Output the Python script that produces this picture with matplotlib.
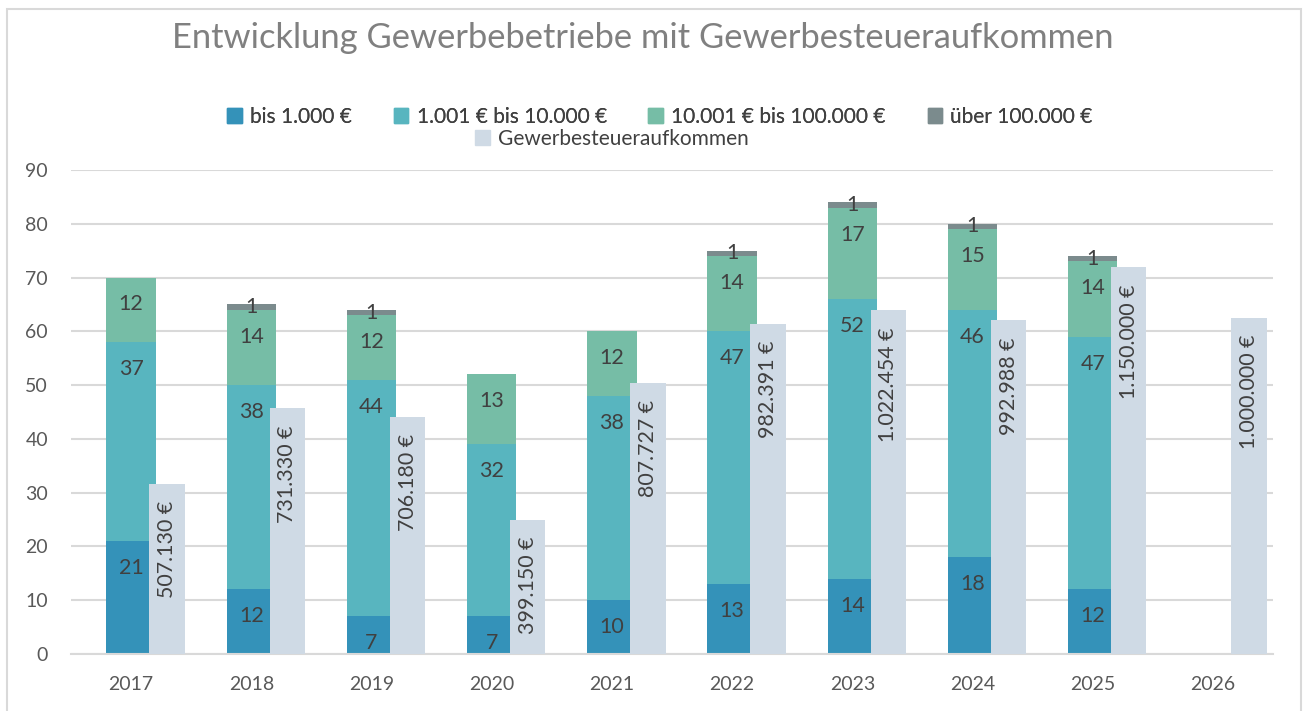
import numpy as np
import matplotlib.pyplot as plt
from matplotlib.patches import Rectangle, Patch

plt.rcParams['font.family'] = ['Lato', 'DejaVu Sans']

jahre = ['2017', '2018', '2019', '2020', '2021', '2022', '2023', '2024', '2025', '2026']
bis_1000 = [21, 12, 7, 7, 10, 13, 14, 18, 12, 0]
bis_10000 = [37, 38, 44, 32, 38, 47, 52, 46, 47, 0]
bis_100000 = [12, 14, 12, 13, 12, 14, 17, 15, 14, 0]
ueber_100000 = [0, 1, 1, 0, 0, 1, 1, 1, 1, 0]
aufkommen = [507130, 731330, 706180, 399150, 807727, 982391, 1022454, 992988, 1150000, 1000000]

serien = [
    ('bis 1.000 €', bis_1000, '#3492b9'),
    ('1.001 € bis 10.000 €', bis_10000, '#58b5bf'),
    ('10.001 € bis 100.000 €', bis_100000, '#76bda6'),
    ('über 100.000 €', ueber_100000, '#7b8b8d'),
]
farbe_aufkommen = '#cfdae5'
grau = '#d9d9d9'
textfarbe = '#404040'

fig = plt.figure(figsize=(13.03, 7.11), dpi=100)
ax = fig.add_axes([71 / 1303, 57 / 711, 1202 / 1303, 484 / 711])
ax2 = ax.twinx()

x = np.arange(len(jahre))
unten = np.zeros(len(jahre))
handles = []
for name, werte, farbe in serien:
    werte = np.array(werte, dtype=float)
    ax.bar(x, werte, width=0.41, bottom=unten, color=farbe, zorder=2)
    handles.append(Patch(color=farbe, label=name))
    for xi, b, v in zip(x, unten, werte):
        if v <= 0:
            continue
        top = b + v
        if v >= 3:
            ax.annotate(f'{v:.0f}', (xi, top), xytext=(0, -19.4), textcoords='offset points',
                        ha='center', va='center', fontsize=15.4, color=textfarbe, zorder=5)
        else:
            ax.annotate(f'{v:.0f}', (xi, b + v / 2), ha='center', va='center',
                        fontsize=15.4, color=textfarbe, zorder=5)
    unten += werte

# Gewerbesteueraufkommen auf zweiter Achse (gleiche Skala, versteckt)
ax2.bar(x + 0.3, aufkommen, width=0.295, color=farbe_aufkommen, zorder=3)
for xi, v in zip(x, aufkommen):
    txt = f'{v:,}'.replace(',', '.') + ' €'
    ax2.annotate(txt, (xi + 0.3, v), xytext=(0, -12.2), textcoords='offset points',
                 ha='center', va='top', rotation=90, fontsize=15.4, color=textfarbe)

ax.set_xlim(-0.5, len(jahre) - 0.5)
ax.set_ylim(0, 90)
ax2.set_ylim(0, 90 * 16000)
ax.set_yticks(range(0, 91, 10))
ax.set_xticks(x)
ax.set_xticklabels(jahre)
ax.grid(axis='y', color=grau, linewidth=1.5, zorder=0)
ax.set_axisbelow(True)
ax.tick_params(axis='both', length=0, labelsize=14, labelcolor='#595959')
ax.tick_params(axis='y', pad=16.5)
ax.tick_params(axis='x', pad=16)
for s in ['top', 'right', 'left']:
    ax.spines[s].set_visible(False)
    ax2.spines[s].set_visible(False)
ax.spines['bottom'].set_color(grau)
ax.spines['bottom'].set_linewidth(1.5)
ax2.spines['bottom'].set_visible(False)
ax2.set_yticks([])

fig.text(643 / 1303, 1 - 38 / 711, 'Entwicklung Gewerbebetriebe mit Gewerbesteueraufkommen',
         ha='center', va='center', fontsize=24.8, color='#808080')

leg1 = fig.legend(handles=handles, loc='center', bbox_to_anchor=(660 / 1303, 1 - 117 / 711),
                  ncol=4, frameon=False, fontsize=15, handlelength=0.7, handleheight=0.7,
                  handletextpad=0.4, columnspacing=2.0, labelcolor=textfarbe)
fig.add_artist(leg1)
fig.legend(handles=[Patch(color=farbe_aufkommen, label='Gewerbesteueraufkommen')], loc='center',
           bbox_to_anchor=(612 / 1303, 1 - 139 / 711), frameon=False, fontsize=15,
           handlelength=0.7, handleheight=0.7, handletextpad=0.4, labelcolor=textfarbe)

fig.add_artist(Rectangle((7 / 1303, -0.05), 1294 / 1303, 1.05 - 9 / 711, transform=fig.transFigure,
                         fill=False, edgecolor=grau, linewidth=1.5))

fig.savefig('out.png', dpi=100)
